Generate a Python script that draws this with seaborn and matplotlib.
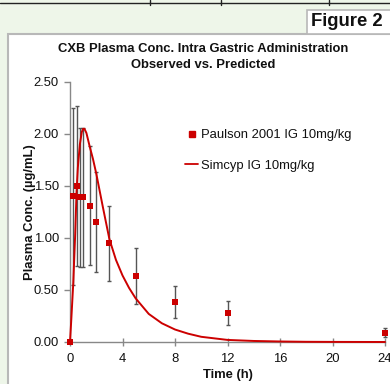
import matplotlib
matplotlib.use("Agg")
import matplotlib.pyplot as plt
from matplotlib.patches import Rectangle
from matplotlib.lines import Line2D
import seaborn as sns
import pandas as pd

# ---- data ----
obs_time = [0, 0.25, 0.5, 0.75, 1.0, 1.5, 2.0, 3.0, 5.0, 8.0, 12.0, 24.0]
obs_conc = [0, 1.40, 1.50, 1.39, 1.39, 1.31, 1.15, 0.95, 0.635, 0.385, 0.28, 0.09]
obs_sd = [0, 0.85, 0.77, 0.67, 0.67, 0.57, 0.48, 0.36, 0.27, 0.15, 0.115, 0.045]

sim_time = [0, 0.1, 0.25, 0.4, 0.5, 0.6, 0.75, 0.9, 1.0, 1.1, 1.25, 1.5, 1.75, 2.0,
            2.5, 3.0, 3.5, 4.0, 4.5, 5.0, 6.0, 7.0, 8.0, 9.0, 10.0, 12.0, 14.0,
            16.0, 18.0, 20.0, 24.0]
sim_conc = [0, 0.22, 0.57, 1.05, 1.45, 1.68, 1.90, 2.02, 2.05, 2.05, 2.01, 1.88,
            1.76, 1.62, 1.30, 0.99, 0.79, 0.64, 0.52, 0.42, 0.27, 0.18, 0.12, 0.08,
            0.05, 0.02, 0.01, 0.005, 0.002, 0.001, 0.0]

x_ticks = [0, 4, 8, 12, 16, 20, 24]
y_ticks = [0.0, 0.5, 1.0, 1.5, 2.0, 2.5]
title_lines = ["CXB Plasma Conc. Intra Gastric Administration", "Observed vs. Predicted"]
obs_label = "Paulson 2001 IG 10mg/kg"
sim_label = "Simcyp IG 10mg/kg"

sns.set_style("white")
plt.rcParams["font.family"] = ["Liberation Sans", "DejaVu Sans"]

W, H = 390, 384
fig = plt.figure(figsize=(W / 100, H / 100), dpi=100)
fig.patch.set_facecolor("#eef6e9")

# white panel with gray border
panel = Rectangle((8 / W, -0.05), 1.2, 1 - 34 / H + 0.05, transform=fig.transFigure,
                  facecolor="white", edgecolor="#b8b8b8", lw=1.5, zorder=-5)
fig.patches.append(panel)
# "Figure 2" box
fbox = Rectangle((307 / W, 1 - 34 / H), 0.5, 24 / H, transform=fig.transFigure,
                 facecolor="white", edgecolor="#b8b8b8", lw=1.2, zorder=-5)
fig.patches.append(fbox)
fig.text(347 / W, 1 - 22 / H, "Figure 2", fontsize=13.3, fontweight="bold",
         ha="center", va="center", color="#111111")
# table lines at top
fig.add_artist(Line2D([0, 1], [1 - 3 / H, 1 - 3 / H], transform=fig.transFigure,
                      color="#222222", lw=1.0))
for xv in [150, 221, 329]:
    fig.add_artist(Line2D([xv / W, xv / W], [1 - 5 / H, 1.0], transform=fig.transFigure,
                          color="#222222", lw=1.0))

# title
fig.text(203 / W, 1 - 49 / H, title_lines[0], fontsize=9.4, fontweight="bold",
         ha="center", va="center", color="#111111")
fig.text(203 / W, 1 - 65 / H, title_lines[1], fontsize=9.4, fontweight="bold",
         ha="center", va="center", color="#111111")

ax = fig.add_axes([70 / W, 1 - 342 / H, 315 / W, 260 / H])
ax.set_zorder(2)
ax.set_facecolor("none")

sim_df = pd.DataFrame({"time": sim_time, "conc": sim_conc})
obs_df = pd.DataFrame({"time": obs_time, "conc": obs_conc, "sd": obs_sd})

sns.lineplot(data=sim_df, x="time", y="conc", ax=ax, color="#cc0000", lw=1.4,
             zorder=3, clip_on=False)
ax.errorbar(obs_df["time"][1:], obs_df["conc"][1:], yerr=obs_df["sd"][1:], fmt="none",
            ecolor="#555555", elinewidth=1.0, capsize=1.5, capthick=1.0, zorder=2,
            clip_on=False)
sns.scatterplot(data=obs_df, x="time", y="conc", ax=ax, marker="s", s=20,
                color="#cc0000", edgecolor="#cc0000", linewidth=0, zorder=4,
                clip_on=False)

ax.set_xlim(0, 24)
ax.set_ylim(0, 2.5)
ax.set_xticks(x_ticks)
ax.set_xticklabels([str(v) for v in x_ticks])
ax.set_yticks(y_ticks)
ax.set_yticklabels([f"{v:.2f}" for v in y_ticks])
for s in ["top", "right"]:
    ax.spines[s].set_visible(False)
for s in ["left", "bottom"]:
    ax.spines[s].set_color("#888888")
    ax.spines[s].set_linewidth(1.0)
ax.tick_params(axis="x", direction="inout", length=6, width=1, color="#888888",
               pad=5, labelsize=9.4, labelcolor="#111111")
ax.tick_params(axis="y", direction="out", length=4, width=1, color="#888888",
               pad=4, labelsize=9.4, labelcolor="#111111")
ax.tick_params(left=True, bottom=True)

ax.set_xlabel("Time (h)", fontsize=9.4, fontweight="bold", color="#111111")
ax.set_ylabel("Plasma Conc. (µg/mL)", fontsize=9.4, fontweight="bold", color="#111111")
ax.xaxis.set_label_coords((228 - 70) / 315, (342 - 369) / 260)
ax.yaxis.set_label_coords((36 - 70) / 315, 0.5)

handles = [Line2D([], [], marker="s", ls="none", color="#cc0000", markersize=4.5),
           Line2D([], [], color="#cc0000", lw=1.3)]
leg = ax.legend(handles, [obs_label, sim_label], loc="upper left",
                bbox_to_anchor=(185 / W, 1 - 129 / H), bbox_transform=fig.transFigure,
                frameon=False, fontsize=9.4, handlelength=1.0, handletextpad=0.2,
                labelspacing=1.42, borderpad=0, borderaxespad=0)
for t in leg.get_texts():
    t.set_color("#111111")

fig.savefig("out.png", dpi=100, facecolor=fig.get_facecolor())
